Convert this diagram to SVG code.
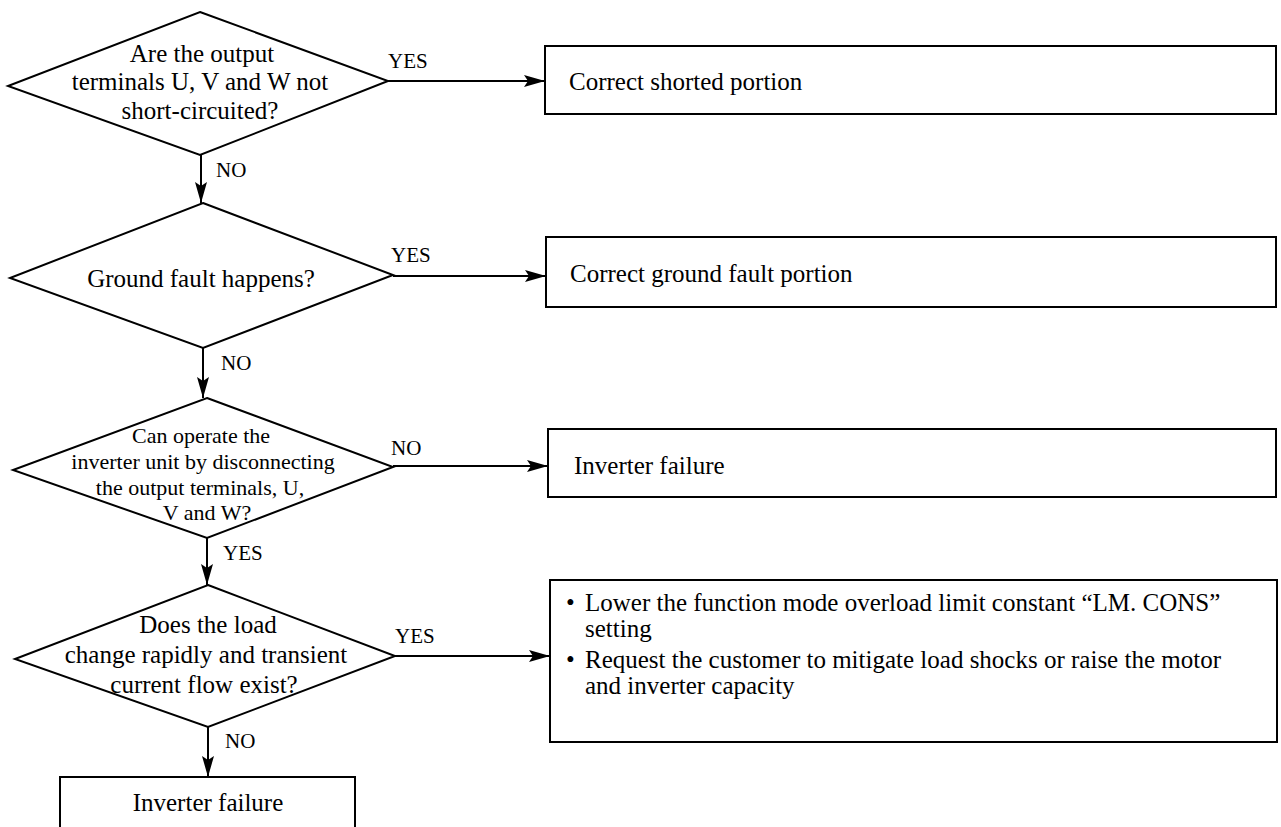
<svg xmlns="http://www.w3.org/2000/svg" width="1281" height="827" viewBox="0 0 1281 827">
<defs>
<marker id="ah" markerUnits="userSpaceOnUse" markerWidth="22" markerHeight="14" refX="21" refY="7" orient="auto">
<path d="M0,1 L21,7 L0,13 L4,7 z" fill="#000"/>
</marker>
<style>
.shape{fill:#fff;stroke:#000;stroke-width:2;stroke-linejoin:miter}
.t{font-family:"Liberation Serif","Times New Roman",serif;font-size:25px;fill:#000}
.d3{font-size:22px}
.lbl{font-family:"Liberation Serif","Times New Roman",serif;font-size:21px;fill:#000}
.c{text-anchor:middle}
.conn line{stroke:#000;stroke-width:2;marker-end:url(#ah)}
</style>
</defs>
<rect width="1281" height="827" fill="#fff"/>

<g id="d1">
<polygon class="shape" points="200,12 388,81 200,155 8,86"/>
<text class="t c" x="202" y="62">Are the output</text>
<text class="t c" x="200" y="90">terminals U, V and W not</text>
<text class="t c" x="200" y="119">short-circuited?</text>
</g>

<g id="b1">
<rect class="shape" x="545" y="46" width="731" height="68"/>
<text class="t" x="569" y="90">Correct shorted portion</text>
</g>

<g id="d2">
<polygon class="shape" points="203,203 393,275 203,348 10,278"/>
<text class="t c" x="201" y="287">Ground fault happens?</text>
</g>

<g id="b2">
<rect class="shape" x="546" y="237" width="730" height="70"/>
<text class="t" x="570" y="282">Correct ground fault portion</text>
</g>

<g id="d3">
<polygon class="shape" points="207,398 393,467 207,538 13,470"/>
<text class="t d3 c" x="201" y="443">Can operate the</text>
<text class="t d3 c" x="203" y="469">inverter unit by disconnecting</text>
<text class="t d3 c" x="200" y="495">the output terminals, U,</text>
<text class="t d3 c" x="207" y="520">V and W?</text>
</g>

<g id="b3">
<rect class="shape" x="548" y="429" width="728" height="68"/>
<text class="t" x="574" y="474">Inverter failure</text>
</g>

<g id="d4">
<polygon class="shape" points="208,585 395,656 208,727 15,659"/>
<text class="t c" x="208" y="633">Does the load</text>
<text class="t c" x="206" y="663">change rapidly and transient</text>
<text class="t c" x="204" y="693">current flow exist?</text>
</g>

<g id="b4">
<rect class="shape" x="550" y="580" width="727" height="162"/>
<text class="t" x="566" y="611">•</text>
<text class="t" x="585" y="611">Lower the function mode overload limit constant “LM. CONS”</text>
<text class="t" x="585" y="637">setting</text>
<text class="t" x="566" y="668">•</text>
<text class="t" x="585" y="668">Request the customer to mitigate load shocks or raise the motor</text>
<text class="t" x="585" y="694">and inverter capacity</text>
</g>

<g id="b5">
<rect class="shape" x="60" y="777" width="295" height="70"/>
<text class="t c" x="208" y="811">Inverter failure</text>
</g>

<g id="connectors" class="conn">
<line x1="388" y1="81" x2="545" y2="81"/>
<line x1="393" y1="276" x2="546" y2="276"/>
<line x1="393" y1="466" x2="548" y2="466"/>
<line x1="395" y1="656" x2="550" y2="656"/>
<line x1="201" y1="155" x2="201" y2="203"/>
<line x1="203" y1="348" x2="203" y2="398"/>
<line x1="207" y1="538" x2="207" y2="585"/>
<line x1="208" y1="727" x2="208" y2="777"/>
</g>

<g id="labels">
<text class="lbl" x="388" y="68">YES</text>
<text class="lbl" x="216" y="177">NO</text>
<text class="lbl" x="391" y="262">YES</text>
<text class="lbl" x="221" y="370">NO</text>
<text class="lbl" x="391" y="455">NO</text>
<text class="lbl" x="223" y="560">YES</text>
<text class="lbl" x="395" y="643">YES</text>
<text class="lbl" x="225" y="748">NO</text>
</g>
</svg>
